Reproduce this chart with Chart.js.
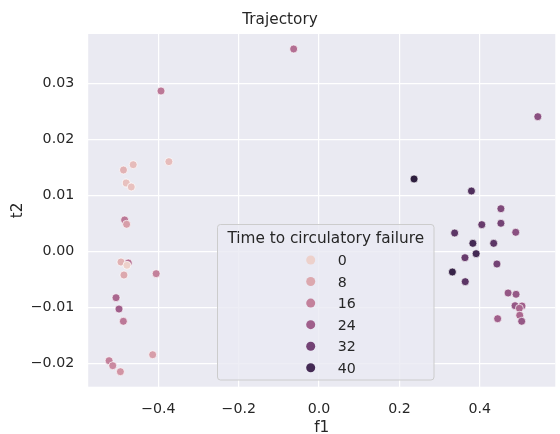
<!DOCTYPE html>
<html>
<head>
<meta charset="utf-8">
<script src="https://cdn.jsdelivr.net/npm/chart.js@4/dist/chart.umd.min.js"></script>
<style>
  html, body { margin: 0; padding: 0; background: #ffffff; }
  canvas { display: block; }
</style>
</head>
<body>
<canvas id="trajectory" width="560" height="434"></canvas>
<script>
// Embedding coordinates of each observation and its time to circulatory failure (h)
const f1 = [
  -0.3936, -0.3739, -0.4628, -0.4870, -0.4800, -0.4676, -0.4841, -0.4792,
  -0.4932, -0.4750, -0.4784, -0.4858, -0.4056, -0.5055, -0.4981, -0.4873,
  -0.4143, -0.5228, -0.5137, -0.4947,
  -0.0633,
  0.5445, 0.2364, 0.3793, 0.4526, 0.4050, 0.4526, 0.4895, 0.3374,
  0.3828, 0.4346, 0.3909, 0.3631, 0.4427, 0.3318, 0.3638, 0.4705,
  0.4903, 0.4878, 0.5051, 0.4986, 0.4994, 0.5043, 0.4445,
];
const t2 = [
  0.02866, 0.01604, 0.01550, 0.01455, 0.01223, 0.01152, 0.00563, 0.00486,
  -0.00188, -0.00205, -0.00246, -0.00420, -0.00396, -0.00825, -0.01027, -0.01246,
  -0.01843, -0.01950, -0.02039, -0.02146,
  0.03616,
  0.02407, 0.01295, 0.01080, 0.00764, 0.00479, 0.00504, 0.00343, 0.00330,
  0.00146, 0.00146, -0.00039, -0.00111, -0.00223, -0.00366, -0.00539, -0.00741,
  -0.00764, -0.00968, -0.00973, -0.01014, -0.01139, -0.01246, -0.01200,
];
const hours = [
  18, 4, 4, 6, 3, 3, 18, 10,
  6, 20, 0, 8, 16, 22, 24, 18,
  10, 16, 14, 12,
  20,
  28, 44, 38, 30, 34, 32, 28, 36,
  40, 36, 40, 34, 32, 42, 36, 26,
  26, 26, 24, 22, 22, 26, 24,
];

const legendHours = [0, 8, 16, 24, 32, 40];
const xTicks = [-0.4, -0.2, 0.0, 0.2, 0.4];
const yTicks = [-0.02, -0.01, 0.0, 0.01, 0.02, 0.03];

const TEXT = "#262626";
const FONT = "'DejaVu Sans', sans-serif";
Chart.defaults.font.family = FONT;
Chart.defaults.color = TEXT;

const hueMin = Math.min(...hours);
const hueMax = Math.max(...hours);

// seaborn's default sequential cubehelix (start 0, rot .4, light .85 -> dark .15)
function cubehelix(t) {
  const x = 0.85 + (0.15 - 0.85) * t;
  const a = 0.8 * x * (1 - x) / 2;
  const phi = 2 * Math.PI * (0.4 * x);
  const c = Math.cos(phi), s = Math.sin(phi);
  const ch = (p0, p1) => Math.round(255 * Math.min(1, Math.max(0, x + a * (p0 * c + p1 * s))));
  return `rgb(${ch(-0.14861, 1.78277)}, ${ch(-0.29227, -0.90649)}, ${ch(1.97294, 0)})`;
}
const hueColor = (h) => cubehelix((h - hueMin) / (hueMax - hueMin));

const minus = (v, digits) => (v < -1e-9 ? "\u2212" : "") + Math.abs(v).toFixed(digits);

const plotBackground = {
  id: "plotBackground",
  beforeDraw(chart) {
    const { ctx, chartArea: a } = chart;
    ctx.save();
    ctx.fillStyle = "#eaeaf2";
    ctx.fillRect(a.left, a.top, a.right - a.left, a.bottom - a.top);
    ctx.restore();
  },
};

// Hue legend drawn inside the axes, matplotlib style
const hueLegend = {
  id: "hueLegend",
  afterDatasetsDraw(chart) {
    const { ctx } = chart;
    const box = { x: 217.5, y: 224.5, w: 216.5, h: 155.5 };
    ctx.save();
    ctx.beginPath();
    ctx.roundRect(box.x, box.y, box.w, box.h, 3);
    ctx.fillStyle = "rgba(234, 234, 242, 0.8)";
    ctx.fill();
    ctx.lineWidth = 1;
    ctx.strokeStyle = "#cccccc";
    ctx.stroke();

    ctx.fillStyle = TEXT;
    ctx.font = `15.3px ${FONT}`;
    ctx.textAlign = "center";
    ctx.textBaseline = "alphabetic";
    ctx.fillText("Time to circulatory failure", box.x + box.w / 2, 242.5);

    ctx.font = `14.2px ${FONT}`;
    ctx.textAlign = "left";
    legendHours.forEach((h, i) => {
      const y = 260 + i * 21.55;
      ctx.beginPath();
      ctx.arc(310.7, y, 4.5, 0, Math.PI * 2);
      ctx.fillStyle = hueColor(h);
      ctx.fill();
      ctx.fillStyle = TEXT;
      ctx.fillText(String(h), 337.7, y + 5.2);
    });
    ctx.restore();
  },
};

const points = f1.map((x, i) => ({ x, y: t2[i] }));

new Chart(document.getElementById("trajectory"), {
  type: "scatter",
  data: {
    datasets: [{
      data: points,
      pointBackgroundColor: hours.map(hueColor),
      pointBorderColor: "#ffffff",
      pointBorderWidth: 0.7,
      pointRadius: 4,
    }],
  },
  options: {
    responsive: false,
    animation: false,
    events: [],
    layout: { padding: 0 },
    scales: {
      x: {
        type: "linear",
        position: "bottom",
        min: -0.5748,
        max: 0.588,
        afterBuildTicks: (s) => { s.ticks = xTicks.map((value) => ({ value })); },
        afterFit: (s) => { s.height = 47.3; },
        grid: { color: "#ffffff", lineWidth: 1.2, drawTicks: false },
        border: { display: false },
        ticks: {
          padding: 14,
          maxRotation: 0,
          font: { size: 14.2 },
          color: TEXT,
          callback: (v) => minus(v, 1),
        },
        title: {
          display: true,
          text: "f1",
          color: TEXT,
          font: { size: 15.3, lineHeight: 0.8 },
          padding: { top: 0, bottom: 0 },
        },
      },
      y: {
        type: "linear",
        position: "left",
        min: -0.02414,
        max: 0.03884,
        afterBuildTicks: (s) => { s.ticks = yTicks.map((value) => ({ value })); },
        afterFit: (s) => { s.width = 88.2; },
        grid: { color: "#ffffff", lineWidth: 1.2, drawTicks: false },
        border: { display: false },
        ticks: {
          padding: 14,
          font: { size: 14.2 },
          color: TEXT,
          callback: (v) => minus(v, 2),
        },
        title: {
          display: true,
          text: "t2",
          color: TEXT,
          font: { size: 15.3, lineHeight: 1.2 },
          padding: { top: 8.5, bottom: 0 },
        },
      },
    },
    plugins: {
      legend: { display: false },
      tooltip: { enabled: false },
      title: {
        display: true,
        text: "Trajectory",
        color: TEXT,
        font: { size: 15.3, weight: "normal", lineHeight: 1.2 },
        padding: { top: 11.3, bottom: 4.3 },
      },
    },
  },
  plugins: [plotBackground, hueLegend],
});
</script>
</body>
</html>
